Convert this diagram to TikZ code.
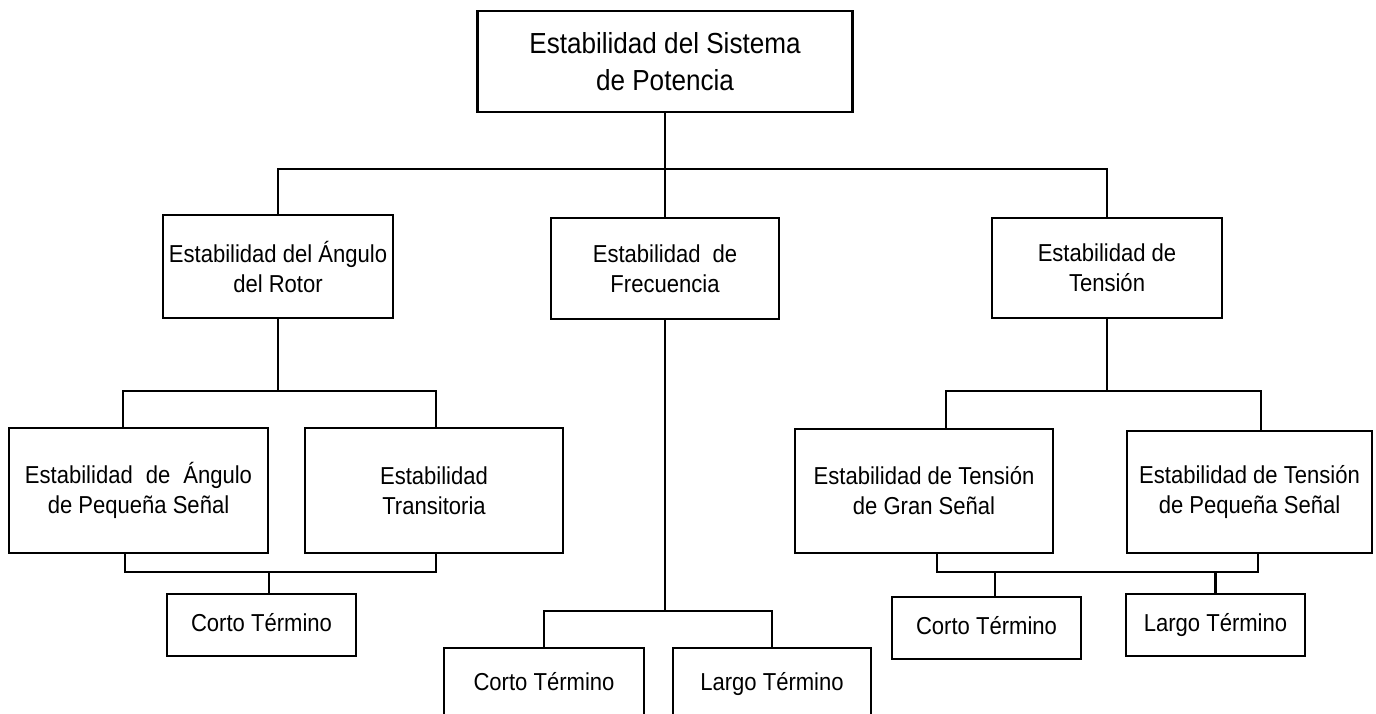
\documentclass[tikz,border=0pt]{standalone}
\usepackage{fontspec}
\setmainfont{Liberation Sans}[FakeStretch=0.9]
\begin{document}
\begin{tikzpicture}[x=0.5pt,y=-0.5pt,line width=1.1pt,
    box/.style={draw,inner sep=0pt,align=center,
      font=\fontsize{12.25}{15}\selectfont},
    term/.style={box,text height=9pt,text depth=2.6pt},
    sz/.style 2 args={minimum width=#1*0.5pt,minimum height=#2*0.5pt}]
    \useasboundingbox (0,0) rectangle (1376,713);
    \clip (0,0) rectangle (1376,713);
    % cajas
    \node[box,sz={375}{101},font=\fontsize{14.5}{18.25}\selectfont] (top) at (665,61.5) {Estabilidad del Sistema\\de Potencia};
    \node[box,sz={230}{103}] (rotor) at (278,266.5) {Estabilidad del Ángulo\\del Rotor};
    \node[box,sz={228}{101}] (frec) at (665,268.5) {Estabilidad\hspace{6pt}de\\Frecuencia};
    \node[box,sz={230}{100}] (tens) at (1107,268) {Estabilidad de\\Tensión};
    \node[box,sz={259}{125}] (angps) at (138.5,490.5) {Estabilidad\hspace{6.5pt}de\hspace{6.5pt}Ángulo\\de Pequeña Señal};
    \node[box,sz={258}{125}] (trans) at (434,490.5) {Estabilidad\\Transitoria};
    \node[term,sz={189}{62}] (rcorto) at (261.5,625) {Corto Término};
    \node[term,sz={200}{72}] (fcorto) at (544,684) {Corto Término};
    \node[term,sz={198}{72}] (flargo) at (772,684) {Largo Término};
    \node[box,sz={258}{124}] (tgran) at (924,491) {Estabilidad de Tensión\\de Gran Señal};
    \node[box,sz={245}{122}] (tpeq) at (1249.5,492) {Estabilidad de Tensión\\de Pequeña Señal};
    \node[term,sz={189}{62}] (tcorto) at (986.5,628) {Corto Término};
    \node[term,sz={179}{62}] (tlargo) at (1215.5,625) {Largo Término};
    % nivel 1
    \coordinate (bar1) at (665,169);
    \draw (top.south) -- (frec.north);
    \draw (rotor.north) |- (bar1) -| (tens.north);
    % angulo del rotor
    \draw (rotor.south) -- ++(0,72) coordinate (bar2);
    \draw ([xshift=-7.75pt]angps.north) |- (bar2) -| ([xshift=1pt]trans.north);
    \draw ([xshift=-6.75pt]angps.south) -- ++(0,18) coordinate (br1) -| ([xshift=1pt]trans.south);
    \draw ([xshift=3.75pt]rcorto.north) |- (br1);
    % frecuencia
    \draw (frec.south) -- ++(0,291) coordinate (bar3);
    \draw (fcorto.north) |- (bar3) -| (flargo.north);
    % tension
    \draw (tens.south) -- ++(0,72) coordinate (bar4);
    \draw ([xshift=11pt]tgran.north) |- (bar4) -| ([xshift=5.75pt]tpeq.north);
    \draw ([xshift=6.5pt]tgran.south) -- ++(0,18) coordinate (br2) -| ([xshift=4.25pt]tpeq.south);
    \draw ([xshift=4.25pt]tcorto.north) |- (br2);
    \draw (tlargo.north) |- (br2);
\end{tikzpicture}
\end{document}
